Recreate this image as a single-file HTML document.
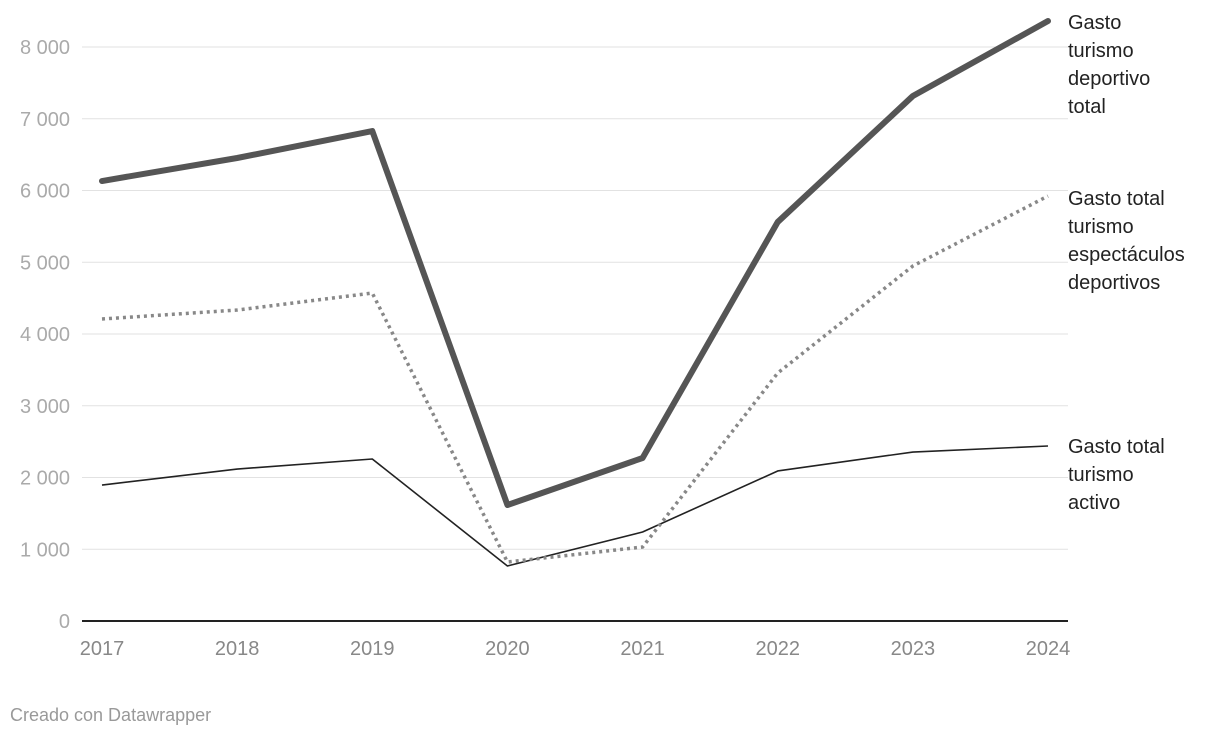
<!DOCTYPE html>
<html><head><meta charset="utf-8"><style>
body{margin:0;background:#fff;}
svg{display:block;font-family:"Liberation Sans",sans-serif;}
</style></head><body>
<svg id="chart" width="1220" height="738" viewBox="0 0 1220 738">
<g id="grid"></g><g id="lines"></g><g id="labels"></g>
<text x="10" y="721" font-size="18" fill="#999">Creado con Datawrapper</text>
</svg>
<script>
const years = ["2017","2018","2019","2020","2021","2022","2023","2024"];
const totalDeportivo = [6132,6453,6829,1617,2272,5561,7317,8362];
const espectaculos = [4209,4334,4571,822,1031,3456,4948,5923];
const activo = [1895,2118,2258,767,1240,2091,2355,2439];
const yTicks = [0,1000,2000,3000,4000,5000,6000,7000,8000];
const yTickLabels = ["0","1 000","2 000","3 000","4 000","5 000","6 000","7 000","8 000"];
const NS="http://www.w3.org/2000/svg";
const x = i => 102 + i*(1048-102)/(years.length-1);
const y = v => 621 - v*(621-47)/8000;
function mk(tag,attrs,parent,text){const e=document.createElementNS(NS,tag);for(const k in attrs)e.setAttribute(k,attrs[k]);if(text!==undefined)e.textContent=text;parent.appendChild(e);return e;}
const grid=document.getElementById('grid'),lines=document.getElementById('lines'),labels=document.getElementById('labels');
yTicks.forEach((t,i)=>{
  if(t>0){const g=mk('line',{x1:82,x2:1068,y1:y(t),y2:y(t),stroke:'#e2e2e2','stroke-width':1},grid);
  
  }
  const l=mk('text',{x:70,y:y(t)+7,'text-anchor':'end','font-size':20,fill:'#aaa'},grid,yTickLabels[i]);
  
  
});
const ax=mk('line',{x1:82,x2:1068,y1:621,y2:621,stroke:'#222','stroke-width':2},grid);


years.forEach((yr,i)=>{
  const l=mk('text',{x:x(i),y:655,'text-anchor':'middle','font-size':20,fill:'#888'},grid,yr);
  
  
});
function series(vals,attrs,name){
  const p=mk('polyline',Object.assign({points:vals.map((v,i)=>x(i)+','+y(v)).join(' '),fill:'none','stroke-linejoin':'round'},attrs),lines);
  
  
}
series(activo,{stroke:'#222','stroke-width':1.6},'line-activo');
series(espectaculos,{stroke:'#888','stroke-width':3.5,'stroke-dasharray':'3 4'},'line-espectaculos');
series(totalDeportivo,{stroke:'#555','stroke-width':6,'stroke-linecap':'round'},'line-total-deportivo');
function lab(lns,top,name){
  const t=mk('text',{x:1068,y:top,'font-size':20,fill:'#222'},labels);
  
  
  lns.forEach((s,i)=>mk('tspan',{x:1068,dy:i?28:0},t,s));
}
lab(["Gasto","turismo","deportivo","total"],29,'label-total-deportivo');
lab(["Gasto total","turismo","espectáculos","deportivos"],205,'label-espectaculos');
lab(["Gasto total","turismo","activo"],453,'label-activo');
</script>
</body></html>
